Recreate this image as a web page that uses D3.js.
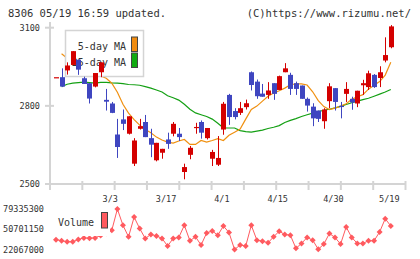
<!DOCTYPE html>
<html>
<head>
<meta charset="utf-8">
<script src="https://cdn.jsdelivr.net/npm/d3@7"></script>
<style>
  body { margin: 0; background: #fff; }
  text { font-family: "DejaVu Sans Mono", monospace; fill: #333; }
</style>
</head>
<body>
<div id="chart"></div>
<script>
// trading days shown (2/16 .. 5/19)
const dates = ["2/16","2/17","2/18","2/19","2/20","2/24","2/25","2/26","2/27","3/2",
  "3/3","3/4","3/5","3/6","3/9","3/10","3/11","3/12","3/13","3/16",
  "3/17","3/18","3/19","3/23","3/24","3/25","3/26","3/27","3/30","3/31",
  "4/1","4/2","4/3","4/6","4/7","4/8","4/9","4/10","4/13","4/14",
  "4/15","4/16","4/17","4/20","4/21","4/22","4/23","4/24","4/27","4/28",
  "4/30","5/1","5/7","5/8","5/11","5/12","5/13","5/14","5/15","5/18","5/19"];

const open = [2910,2910,2936,2957,2977,2906,2887,2874,2929,2823,
  2809,2690,2748,2693,2578,2712,2738,2676,2591,2620,
  2671,2693,2693,2546,2612,2717,2738,2676,2597,2574,
  2709,2842,2780,2773,2795,2929,2893,2847,2842,2887,
  2861,2929,2919,2887,2878,2827,2797,2782,2741,2818,
  2868,2800,2846,2827,2809,2879,2872,2919,2907,2974,3025];
const high = [2910,2944,2967,3010,2978,2912,2887,2926,2967,2865,
  2815,2750,2786,2760,2676,2750,2765,2712,2658,2635,
  2697,2738,2715,2578,2646,2735,2744,2715,2631,2684,
  2815,2846,2791,2815,2824,2932,2901,2884,2891,2887,
  2916,2964,2927,2893,2878,2832,2810,2782,2791,2887,
  2868,2815,2891,2835,2858,2900,2935,2922,2952,3063,3110];
const low = [2910,2872,2920,2957,2919,2884,2809,2871,2910,2782,
  2772,2600,2707,2690,2569,2709,2680,2603,2587,2597,
  2635,2683,2665,2518,2595,2693,2674,2671,2569,2569,
  2689,2727,2748,2765,2786,2859,2827,2835,2827,2823,
  2861,2929,2842,2842,2827,2778,2722,2738,2712,2791,
  2782,2752,2815,2785,2795,2842,2861,2869,2872,2967,3021];
const close = [2910,2874,2955,3010,2939,2884,2828,2926,2967,2816,
  2773,2642,2731,2760,2667,2722,2680,2651,2658,2635,
  2654,2731,2680,2565,2639,2719,2697,2715,2623,2600,
  2808,2757,2757,2791,2810,2880,2837,2835,2859,2846,
  2914,2944,2865,2865,2827,2801,2752,2750,2786,2875,
  2815,2796,2865,2813,2858,2887,2925,2872,2929,2995,3105];

// moving averages (null = not drawn)
const ma5 = [null,3000,2983,2960,2950,2940,2930,2925,2915,2906,
  2887,2852,2806,2772,2747,2726,2709,2697,2680,2669,
  2661,2657,2665,2671,2652,2652,2667,2661,2667,2674,
  2667,2687,2699,2711,2749,2786,2799,2818,2837,2849,
  2858,2868,2881,2884,2884,2880,2854,2820,2797,2786,
  2791,2799,2808,2825,2835,2843,2864,2879,2893,2918,2967];
const ma25 = [null,2874,2883,2887,2889,2891,2889,2887,2890,2890,
  2888,2887,2885,2882,2881,2879,2874,2868,2861,2853,
  2839,2831,2822,2806,2787,2773,2766,2759,2749,2733,
  2715,2715,2715,2705,2701,2699,2703,2707,2713,2718,
  2724,2736,2744,2751,2759,2766,2772,2778,2783,2787,
  2792,2798,2805,2812,2818,2824,2829,2837,2845,2853,2863];

const volume = [36000000,34400000,33000000,33000000,36300000,38500000,38000000,38500000,42000000,45000000,
  49300000,79335300,56300000,40000000,67900000,51700000,37700000,43300000,41300000,37700000,
  27000000,37700000,39100000,56300000,34400000,40000000,28400000,45500000,48300000,42300000,
  55300000,46100000,22067000,28400000,27000000,56300000,35300000,33900000,31600000,40000000,
  47900000,43300000,42300000,23700000,30700000,39100000,35300000,22400000,29700000,44700000,
  39100000,29700000,53900000,39100000,30700000,30700000,34400000,34400000,46900000,65600000,55300000];

const xLabels = ["3/3","3/17","4/1","4/15","4/30","5/19"];
const priceTicks = [2500, 2800, 3100];

const width = 420, height = 259;
const svg = d3.select("#chart").append("svg")
  .attr("width", width).attr("height", height);

const x = d3.scalePoint().domain(dates).range([56, 390.8]);
const y = d3.scaleLinear().domain([2500, 3100]).range([184, 27.7]);
const grid = d3.scaleLinear().domain([0, 11]).range([50, 405.5]);

const vExt = d3.extent(volume);
const yv = d3.scaleLinear().domain(vExt).range([249.5, 209]);

const gray = "#d4d4d4";

// header
svg.append("text").attr("x", 8).attr("y", 17).style("font-size", "10.5px")
  .text("8306 05/19 16:59 updated.");
svg.append("text").attr("x", 411).attr("y", 17).style("font-size", "10.5px")
  .attr("text-anchor", "end").text("(C)https://www.rizumu.net/");

// axes
svg.append("line").attr("x1", 50).attr("x2", 50).attr("y1", 22).attr("y2", 190)
  .attr("stroke", gray).attr("stroke-width", 2);
svg.append("line").attr("x1", 45).attr("x2", 406).attr("y1", y(2500)).attr("y2", y(2500))
  .attr("stroke", gray).attr("stroke-width", 2);
svg.selectAll(".ytick").data(priceTicks).join("line")
  .attr("x1", 45).attr("x2", 54).attr("y1", d => y(d)).attr("y2", d => y(d))
  .attr("stroke", gray).attr("stroke-width", 2);
svg.selectAll(".ylab").data(priceTicks).join("text")
  .attr("x", 40).attr("y", d => y(d) + 3)
  .attr("text-anchor", "end").style("font-size", "8.5px").text(d => d);
svg.selectAll(".xtick").data(d3.range(1, 12)).join("line")
  .attr("x1", d => grid(d)).attr("x2", d => grid(d)).attr("y1", 181).attr("y2", 190)
  .attr("stroke", gray).attr("stroke-width", 2);
svg.selectAll(".xlab").data(xLabels).join("text")
  .attr("x", d => x(d) - 1.5).attr("y", 202)
  .attr("text-anchor", "middle").style("font-size", "8.5px").text(d => d);

// moving averages
const maLine = d3.line().defined(d => d != null)
  .x((d, i) => x(dates[i])).y(d => y(d));
svg.append("path").attr("d", maLine(ma25)).attr("fill", "none")
  .attr("stroke", "#14a014").attr("stroke-width", 1.2);
svg.append("path").attr("d", maLine(ma5)).attr("fill", "none")
  .attr("stroke", "#f09010").attr("stroke-width", 1.2);

// legend (drawn under the candles)
const lg = svg.append("g");
lg.append("rect").attr("x", 65.5).attr("y", 30.5).attr("width", 78).attr("height", 46)
  .attr("fill", "#fff").attr("stroke", gray).attr("stroke-width", 1.5);
[["5-day MA", "#f08c10", 50], ["25-day MA", "#10aa10", 66]].forEach(([t, c, yy]) => {
  lg.append("text").attr("x", 126).attr("y", yy).attr("text-anchor", "end")
    .style("font-size", "10px").text(t);
  lg.append("rect").attr("x", 131.5).attr("y", yy - 13).attr("width", 6).attr("height", 14.5)
    .attr("fill", c).attr("stroke", "#444").attr("stroke-width", 1);
});

// candles
const idx = d3.range(dates.length);
const up = i => close[i] >= open[i];
const col = i => up(i) ? "#d40000" : "#3f46c0";
const cw = 5;
const cg = svg.append("g");
cg.selectAll("line").data(idx).join("line")
  .attr("x1", i => Math.round(x(dates[i])) + 0.5).attr("x2", i => Math.round(x(dates[i])) + 0.5)
  .attr("y1", i => y(high[i])).attr("y2", i => y(low[i]))
  .attr("stroke", col).attr("stroke-width", 1);
cg.selectAll("rect").data(idx).join("rect")
  .attr("x", i => Math.round(x(dates[i])) + 0.5 - cw / 2)
  .attr("width", cw)
  .attr("y", i => y(Math.max(open[i], close[i])))
  .attr("height", i => Math.max(1.2, Math.abs(y(open[i]) - y(close[i]))))
  .attr("fill", col);

// volume
const vg = svg.append("g");
vg.append("path")
  .attr("d", d3.line().x((d, i) => x(dates[i])).y(d => yv(d))(volume))
  .attr("fill", "none").attr("stroke", "#ff5a5f").attr("stroke-width", 1);
vg.selectAll("path.dot").data(volume).join("path").attr("class", "dot")
  .attr("d", d3.symbol(d3.symbolSquare, 18)())
  .attr("transform", (d, i) => `translate(${x(dates[i])},${yv(d)}) rotate(45)`)
  .attr("fill", "#ff5a5f");

const vTicks = [vExt[1], (vExt[0] + vExt[1]) / 2, vExt[0]];
svg.selectAll(".vlab").data(vTicks).join("text")
  .attr("x", 44).attr("y", d => yv(d) + 3)
  .attr("text-anchor", "end").style("font-size", "8.5px").text(d => Math.round(d));

// volume legend
svg.append("rect").attr("x", 56).attr("y", 211).attr("width", 54).attr("height", 25).attr("fill", "#fff");
svg.append("text").attr("x", 58).attr("y", 226).style("font-size", "10px").text("Volume");
svg.append("rect").attr("x", 101.5).attr("y", 212.5).attr("width", 6).attr("height", 15.5)
  .attr("fill", "#ff5a5f").attr("stroke", "#444").attr("stroke-width", 1);
</script>
</body>
</html>
